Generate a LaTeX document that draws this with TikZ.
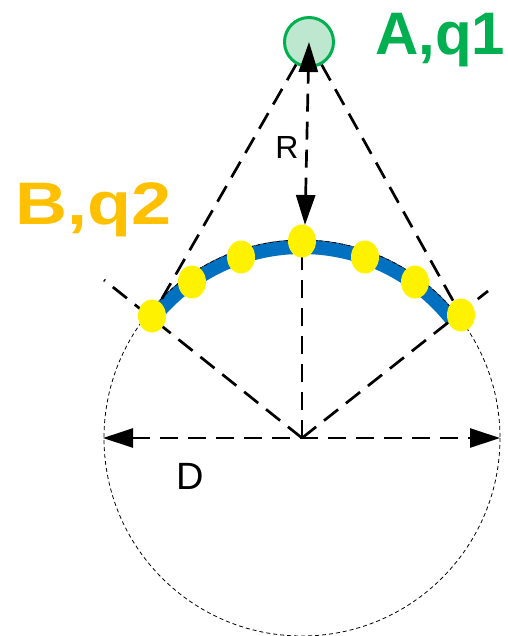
\documentclass[tikz,border=0pt]{standalone}
\usepackage{fontspec}
\setmainfont{Liberation Sans}
\usetikzlibrary{arrows.meta,shapes.geometric}
\definecolor{qgreen}{HTML}{00B050}
\definecolor{qlight}{HTML}{BDE8CF}
\definecolor{qorange}{HTML}{FFC000}
\definecolor{qblue}{HTML}{0070C0}
\tikzset{
  dl/.style={line width=2.7pt, dash pattern=on 18pt off 10pt},
  dim/.style={dl, {Triangle[length=30pt,width=19pt]}-{Triangle[length=30pt,width=19pt]}},
  thin dash/.style={line width=0.8pt, dash pattern=on 4pt off 3pt},
  bead/.style={ellipse, fill=yellow, draw=none, minimum width=28pt, minimum height=33pt, inner sep=0pt},
  charge/.style={circle, fill=qlight, draw=qgreen, line width=3pt, minimum size=49pt, inner sep=0pt},
  big/.style={font=\fontsize{60}{70}\selectfont\bfseries, inner sep=0pt}
}
\begin{document}
\begin{tikzpicture}[x=1pt,y=-1pt]
\useasboundingbox (0,0) rectangle (507,636);
\coordinate (O) at (302,438);
\coordinate (L) at (104,280);
\coordinate (Rr) at (488,291);
\coordinate (Dl) at (103,438);
\coordinate (Dr) at (500,438);
\coordinate (p1) at (152,316);
\coordinate (p2) at (192,282);
\coordinate (p3) at (241,257);
\coordinate (p4) at (302,241);
\coordinate (p5) at (365,257);
\coordinate (p6) at (415,282);
\coordinate (p7) at (461,315);
\coordinate (Rb) at (305,225);
% dashed circle
\draw[thin dash] (O) circle[radius=198];
% blue arc
\draw[qblue, line width=14pt] ([shift={(218:191)}]O) arc[start angle=218, end angle=322, radius=191];
\draw[thin dash] ([shift={(218:198)}]O) arc[start angle=218, end angle=322, radius=198];
% charge A
\node[charge] (A) at (309,42) {};
% dashed construction lines
\draw[dl] (A) -- (p1);
\draw[dl] (A) -- (p7);
\draw[dl] (O) -- (L);
\draw[dl] (O) -- (Rr);
\draw[dl] (O) -- (p4);
% beads
\foreach \i in {1,...,7} \node[bead] (e\i) at (p\i) {};
% dimension arrows
\draw[dim] (Rb) -- (A.center);
\draw[dim] (Dl) -- (Dr);
% labels
\node[font=\fontsize{32}{36}\selectfont] (Rlab) at (287,147) {R};
\node[font=\fontsize{38}{42}\selectfont] (Dlab) at (190,476) {D};
\node[big, text=qgreen, anchor=base west] (Alab) at (375,55) {A,q1};
\node[big, text=qorange, anchor=base west] (Blab) at (15,225) {\scalebox{1.2}[1]{B,q2}};
\end{tikzpicture}
\end{document}
